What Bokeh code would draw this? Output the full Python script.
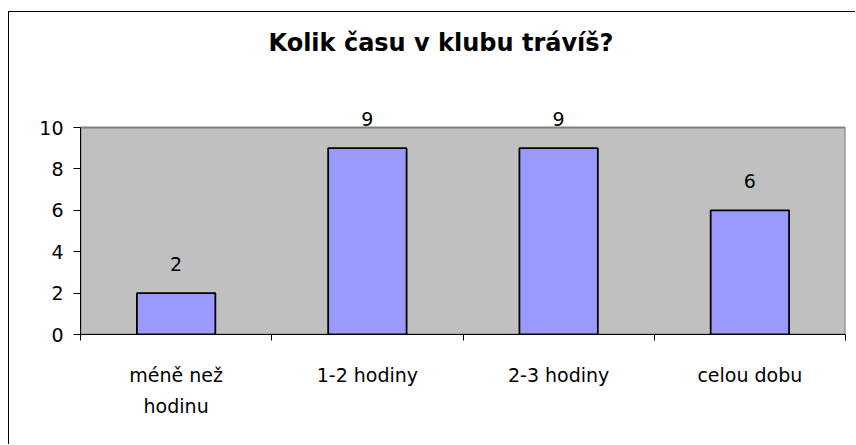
from bokeh.plotting import figure
from bokeh.models import (Range1d, FixedTicker, LabelSet, Label,
                          ColumnDataSource, BoxAnnotation)
from bokeh.core.properties import value
from bokeh.embed import file_html
from bokeh.resources import INLINE

title_text = "Kolik času v klubu trávíš?"
categories = ["méně než\nhodinu", "1-2 hodiny", "2-3 hodiny", "celou dobu"]
values = [2, 9, 9, 6]
y_ticks = [0, 2, 4, 6, 8, 10]
y_max = 10

FONT = "DejaVu Sans"

n = len(categories)
centers = [i + 0.5 for i in range(n)]
edge_ticks = list(range(n + 1))

src = ColumnDataSource(dict(x=centers, cat=categories, val=values,
                            val_str=[str(v) for v in values]))

# frame spans the full height above the axis so that labels are never clipped
p = figure(width=847, height=433, x_range=Range1d(0, n),
           y_range=Range1d(0, 15.556), output_backend="svg",
           toolbar_location=None, title_location=None,
           min_border_left=71, min_border_right=11,
           min_border_top=0, min_border_bottom=111)
p.styles = {"border-left": "1px solid #000000",
            "border-top": "1px solid #000000",
            "margin-left": "8px",
            "margin-top": "11px"}

p.background_fill_color = "#FFFFFF"
p.border_fill_color = "#FFFFFF"
p.outline_line_color = None
p.xgrid.visible = False
p.ygrid.visible = False

# grey plot area (0 .. y_max)
area = BoxAnnotation(bottom=0, top=y_max, fill_color="#C0C0C0", fill_alpha=1,
                     line_color="#808080", line_width=2, line_alpha=1,
                     level="underlay")
p.add_layout(area)

title = Label(x=n / 2, y=y_max, x_offset=-22, y_offset=85, text=title_text,
              text_align="center", text_baseline="alphabetic",
              text_font=FONT, text_font_size="24px", text_font_style="bold",
              text_color="#000000")
p.add_layout(title)

yax = p.yaxis[0]
yax.ticker = FixedTicker(ticks=y_ticks)
yax.bounds = (0, y_max)
yax.axis_line_color = "#000000"
yax.major_tick_line_color = "#000000"
yax.major_tick_out = 7
yax.major_tick_in = 0
yax.minor_tick_line_color = None
yax.major_label_text_font = FONT
yax.major_label_text_font_size = "19px"
yax.major_label_text_color = "#000000"
yax.major_label_standoff = 10

xax = p.xaxis[0]
xax.ticker = FixedTicker(ticks=centers, minor_ticks=edge_ticks)
xax.major_label_overrides = {c: lab for c, lab in zip(centers, categories)}
xax.axis_line_color = "#000000"
xax.major_tick_line_color = None
xax.major_tick_out = 0
xax.major_tick_in = 0
xax.minor_tick_line_color = "#000000"
xax.minor_tick_out = 6
xax.minor_tick_in = 0
xax.major_label_text_font = FONT
xax.major_label_text_font_size = "19px"
xax.major_label_text_color = "#000000"
xax.major_label_text_line_height = 1.45
xax.major_label_standoff = 23

p.vbar(x="x", top="val", width=0.41, source=src,
       fill_color="#9999FF", line_color="#000000", line_width=1.8)

vals = LabelSet(x="x", y="val", text="val_str", source=src,
                y_offset=22, text_align="center", text_baseline="alphabetic",
                text_font=value(FONT), text_font_size=value("19px"),
                text_color="#000000")
p.add_layout(vals)

open("out.html", "w").write(file_html(p, INLINE))
